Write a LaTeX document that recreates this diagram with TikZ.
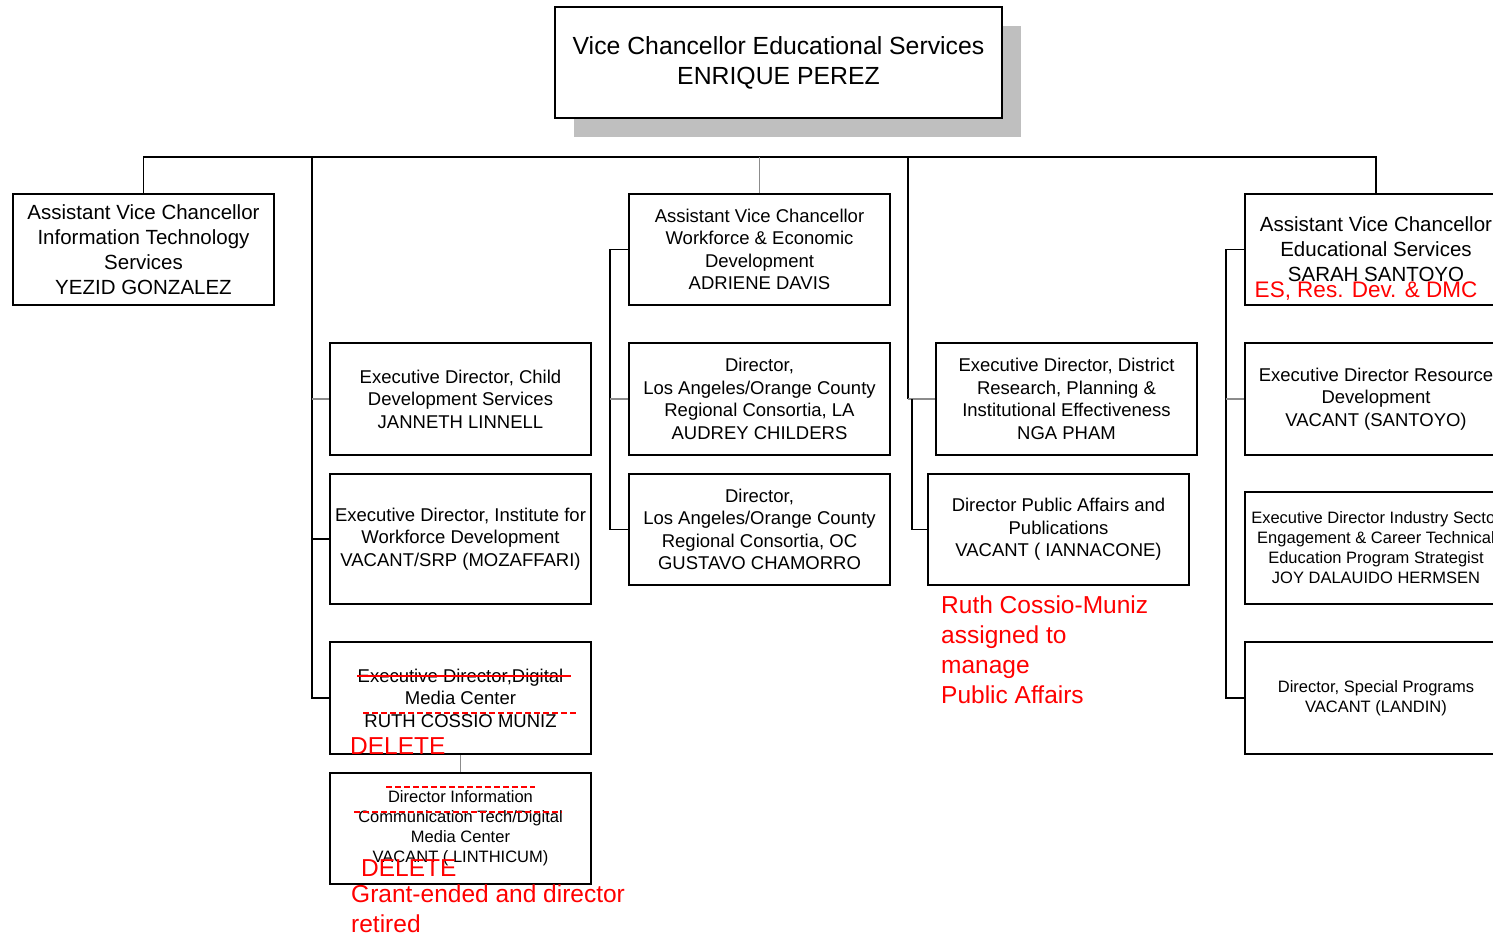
\documentclass[tikz,border=0pt]{standalone}
\usepackage{fontspec}
\setmainfont{Liberation Sans}
\usetikzlibrary{shadows}

\tikzset{
  post/.style={draw,line width=1.8pt,fill=white,inner sep=0pt,align=center,
    minimum width=261pt,minimum height=111pt,font=\fontsize{18.5}{22.5}\selectfont},
  postsm/.style={font=\fontsize{16.5}{20}\selectfont},
  postlg/.style={font=\fontsize{20.5}{25}\selectfont},
  link/.style={line width=1.3pt},
  faint/.style={line width=1.3pt,draw=black!45},
  note/.style={text=red,inner sep=0pt,align=left,anchor=north west,
    font=\fontsize{24.5}{30}\selectfont},
  strike/.style={red,line width=1.5pt},
  dashstrike/.style={red,line width=1.5pt,dash pattern=on 6pt off 3pt},
}

\begin{document}
\begin{tikzpicture}[x=1pt,y=-1pt]
  \useasboundingbox (0,0) rectangle (1493,937);
  \clip (0,0) rectangle (1493,937);

  % head of the office
  \node[post,minimum width=447pt,font=\fontsize{24.8}{30}\selectfont,
    drop shadow={shadow xshift=18.5pt,shadow yshift=-19pt,fill=black!25,opacity=1}]
    (vc) at (778.5,62.5) {Vice Chancellor Educational Services\\ENRIQUE PEREZ};

  % first column
  \node[post,postlg] (its) at (143.5,249.5) {Assistant Vice Chancellor\\Information Technology\\Services\\YEZID GONZALEZ};
  \node[post,minimum height=112pt] (cds) at (460.5,399) {Executive Director, Child\\Development Services\\JANNETH LINNELL};
  \node[post,minimum height=130pt] (iwd) at (460.5,539) {Executive Director, Institute for\\Workforce Development\\VACANT/SRP (MOZAFFARI)};
  \node[post,minimum height=112pt] (dmc) at (460.5,698) {Executive Director,Digital\\Media Center\\RUTH COSSIO MUNIZ};
  \node[post,postsm] (dict) at (460.5,828.5) {Director Information\\Communication Tech/Digital\\Media Center\\VACANT ( LINTHICUM)};

  % workforce column
  \node[post] (wed) at (759.5,249.5) {Assistant Vice Chancellor\\Workforce \& Economic\\Development\\ADRIENE DAVIS};
  \node[post,minimum height=112pt] (la) at (759.5,399) {Director,\\Los Angeles/Orange County\\Regional Consortia, LA\\AUDREY CHILDERS};
  \node[post] (oc) at (759.5,529.5) {Director,\\Los Angeles/Orange County\\Regional Consortia, OC\\GUSTAVO CHAMORRO};

  % research and public affairs
  \node[post,minimum height=112pt] (drp) at (1066.5,399) {Executive Director, District\\Research, Planning \&\\Institutional Effectiveness\\NGA PHAM};
  \node[post] (pa) at (1058.5,529.5) {Director Public Affairs and\\Publications\\VACANT ( IANNACONE)};

  % educational services column
  \node[post,postlg,minimum width=262pt] (aes) at (1376,249.5) {Assistant Vice Chancellor\\Educational Services\\SARAH SANTOYO};
  \node[post,minimum width=262pt,minimum height=112pt] (rd) at (1376,399) {Executive Director Resource\\Development\\VACANT (SANTOYO)};
  \node[post,postsm,minimum width=262pt,minimum height=112pt] (ise) at (1376,548) {Executive Director Industry Sector\\Engagement \& Career Technical\\Education Program Strategist\\JOY DALAUIDO HERMSEN};
  \node[post,postsm,minimum width=262pt,minimum height=112pt] (sp) at (1376,698) {Director, Special Programs\\VACANT (LANDIN)};

  % connectors
  \draw[link] (its.north) -- ++(0,-36) -| (aes.north);
  \coordinate (lspine) at (312,156);
  \draw[link] (lspine) |- (dmc.west);
  \draw[link] (lspine |- iwd.west) -- (iwd.west);
  \draw[faint] (lspine |- cds.west) -- (cds.west);
  \draw[faint] (dmc.south) -- (dict.north);
  \draw[faint] (wed.north) -- ++(0,-36);
  \draw[link] (wed.west) -- ++(-18,0) |- (oc.west);
  \draw[faint] (la.west) -- ++(-18,0);
  \coordinate (rspine) at (908,156);
  \draw[link] (rspine) -- (rspine |- drp.west);
  \draw[faint] (rspine |- drp.west) -- (drp.west);
  \draw[link] ([xshift=4pt]rspine |- drp.west) |- (pa.west);
  \draw[link] (aes.west) -- ++(-18,0) |- (sp.west);
  \draw[faint] (rd.west) -- ++(-18,0);

  % red markings
  \draw[strike] (357,676) -- (571,676);
  \draw[dashstrike] (363,713) -- (576,713);
  \draw[dashstrike] (386,787) -- (535,787);
  \draw[dashstrike] (354,812) -- (562,812);
  \node[note] (del1) at (350,737) {DELETE};
  \node[note] (del2) at (361,859) {DELETE};
  \node[note] (grant) at (351,885) {Grant-ended and director\\retired};
  \node[note] (ruth) at (941,596) {Ruth Cossio-Muniz\\assigned to\\manage\\Public Affairs};
  \node[text=red,inner sep=0pt,font=\fontsize{22.5}{25}\selectfont] (esnote) at (1366,291) {ES, Res. Dev. \& DMC};
\end{tikzpicture}
\end{document}
